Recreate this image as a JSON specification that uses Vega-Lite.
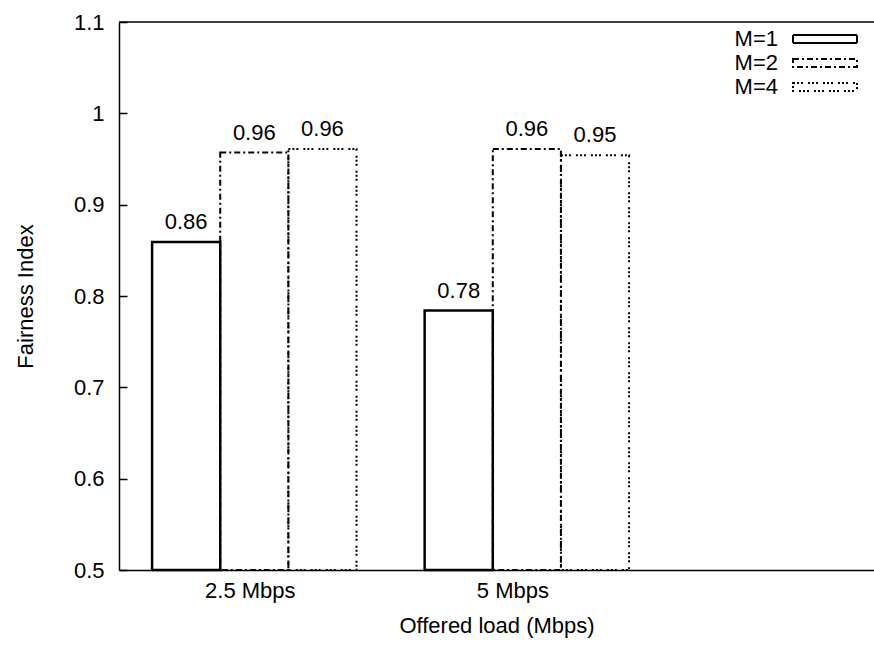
{
  "$schema": "https://vega.github.io/schema/vega-lite/v6.json",
  "width": 755,
  "height": 548,
  "autosize": {"type": "none"},
  "padding": {"left": 119, "top": 22, "right": 0, "bottom": 76},
  "config": {
    "font": "Liberation Sans",
    "view": {"stroke": null},
    "axis": {
      "labelFont": "Liberation Sans",
      "titleFont": "Liberation Sans",
      "labelFontSize": 22,
      "titleFontSize": 22,
      "labelColor": "black",
      "titleColor": "black",
      "titleFontWeight": "normal",
      "domainColor": "black",
      "domainWidth": 1.5,
      "tickColor": "black",
      "grid": false
    },
    "legend": {
      "labelFont": "Liberation Sans",
      "labelFontSize": 22,
      "labelColor": "black"
    }
  },
  "data": {
    "values": [
      {"load": "2.5 Mbps", "M": "M=1", "value": 0.859},
      {"load": "2.5 Mbps", "M": "M=2", "value": 0.957},
      {"load": "2.5 Mbps", "M": "M=4", "value": 0.961},
      {"load": "5 Mbps", "M": "M=1", "value": 0.784},
      {"load": "5 Mbps", "M": "M=2", "value": 0.961},
      {"load": "5 Mbps", "M": "M=4", "value": 0.954}
    ]
  },
  "resolve": {"axis": {"y": "independent"}},
  "layer": [
    {
      "mark": {"type": "bar", "filled": false, "stroke": "black", "strokeWidth": 2},
      "encoding": {
        "x": {
          "field": "load",
          "type": "nominal",
          "sort": ["2.5 Mbps", "5 Mbps"],
          "scale": {"type": "band", "paddingInner": 0.25, "paddingOuter": 0.51, "align": 0.119},
          "title": "Offered load (Mbps)",
          "axis": {
            "labelAngle": 0,
            "ticks": false,
            "labelPadding": 10,
            "titlePadding": 14,
            "labelOffset": {"condition": {"test": "datum.value === '5 Mbps'", "value": -14}, "value": -4}
          }
        },
        "xOffset": {"field": "M", "type": "nominal", "sort": ["M=1", "M=2", "M=4"], "scale": {"paddingInner": 0, "paddingOuter": 0}},
        "y": {
          "field": "value",
          "type": "quantitative",
          "scale": {"domain": [0.5, 1.1], "zero": false, "nice": false},
          "title": "Fairness Index",
          "axis": {
            "orient": "left",
            "values": [0.5, 0.6, 0.7, 0.8, 0.9, 1, 1.1],
            "format": "~g",
            "ticks": false,
            "labelPadding": 15,
            "titlePadding": 36
          }
        },
        "y2": {"datum": 0.5},
        "strokeDash": {
          "field": "M",
          "type": "nominal",
          "scale": {"domain": ["M=1", "M=2", "M=4"], "range": [[1, 0], [6, 3, 2, 3], [2, 2, 2, 2, 2, 5]]},
          "legend": {
            "title": null,
            "orient": "none",
            "legendX": 695,
            "legendY": 6,
            "padding": 0,
            "symbolType": "M-4,-0.5L4,-0.5L4,0.5L-4,0.5Z",
            "symbolSize": 256,
            "symbolStrokeWidth": 2,
            "symbolStrokeColor": "black",
            "symbolFillColor": "transparent",
            "labelAlign": "right",
            "labelOffset": -58,
            "rowPadding": 2
          }
        },
        "strokeWidth": {"condition": {"test": "datum.M === 'M=1'", "value": 2.5}, "value": 2}
      }
    },
    {
      "mark": {"type": "text", "baseline": "bottom", "dy": -8, "fontSize": 22, "font": "Liberation Sans", "color": "black"},
      "encoding": {
        "x": {"field": "load", "type": "nominal", "sort": ["2.5 Mbps", "5 Mbps"]},
        "xOffset": {"field": "M", "type": "nominal", "sort": ["M=1", "M=2", "M=4"]},
        "y": {"field": "value", "type": "quantitative", "axis": null},
        "text": {"field": "value", "type": "quantitative", "format": ".2f"}
      }
    },
    {
      "data": {"values": [{"top": 1.1}]},
      "mark": {"type": "rule", "color": "black", "strokeWidth": 1.5},
      "encoding": {
        "y": {
          "field": "top",
          "type": "quantitative",
          "axis": {
            "orient": "left",
            "offset": -8,
            "tickSize": 8,
            "tickWidth": 1.5,
            "labels": false,
            "domain": false,
            "title": null,
            "values": [0.5, 0.6, 0.7, 0.8, 0.9, 1, 1.1]
          }
        }
      }
    }
  ]
}
